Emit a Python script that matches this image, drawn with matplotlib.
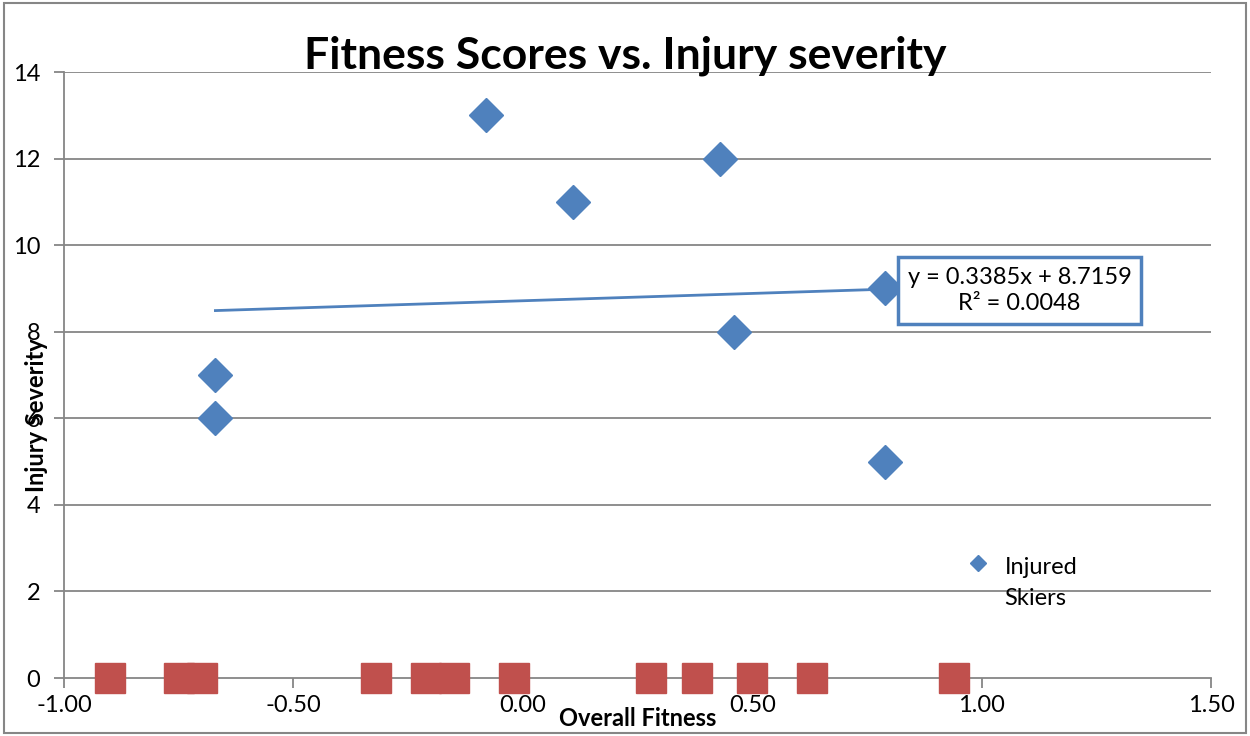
import matplotlib
matplotlib.use('Agg')
import matplotlib.pyplot as plt
from matplotlib.patches import Rectangle
import numpy as np

plt.rcParams['font.family'] = ['Lato', 'DejaVu Sans']

# injured skiers (overall fitness, injury severity)
injured_x = [-0.67, -0.67, -0.08, 0.11, 0.43, 0.46, 0.79, 0.79]
injured_y = [7, 6, 13, 11, 12, 8, 9, 5]

# uninjured skiers sit on severity 0
uninjured_x = [-0.90, -0.75, -0.70, -0.32, -0.21, -0.15, -0.02,
               0.28, 0.38, 0.50, 0.63, 0.94]
uninjured_y = [0] * len(uninjured_x)

# Excel linear trendline shown on the chart
slope = 0.3385
intercept = 8.7159
r2 = 0.0048

x_ticks = [-1.0, -0.5, 0.0, 0.5, 1.0, 1.5]
y_ticks = [0, 2, 4, 6, 8, 10, 12, 14]

blue = '#4F81BD'
red = '#C0504D'
grey = '#868686'

fig = plt.figure(figsize=(12.5, 7.36), dpi=100)
ax = fig.add_axes([0.0512, 0.0788, 0.9176, 0.8233])

# grey frame round the whole chart
fig.patches.append(Rectangle((0.003, 0.004), 0.994, 0.992, transform=fig.transFigure,
                             fill=False, edgecolor=grey, lw=1.5))

ax.set_xlim(-1.0, 1.5)
ax.set_ylim(0, 14)
ax.set_xticks(x_ticks)
ax.set_xticklabels(['%.2f' % t for t in x_ticks])
ax.set_yticks(y_ticks)

for y in y_ticks[1:]:
    ax.axhline(y, color=grey, lw=1.3, zorder=1)

for s in ['top', 'right']:
    ax.spines[s].set_visible(False)
ax.spines['left'].set_color(grey)
ax.spines['bottom'].set_color(grey)
ax.spines['left'].set_linewidth(1.3)
ax.spines['bottom'].set_linewidth(1.3)
ax.spines['bottom'].set_zorder(1)
ax.tick_params(axis='both', colors=grey, labelcolor='black', labelsize=17,
               length=7, width=1.3, direction='out')
ax.tick_params(axis='x', pad=5)
ax.tick_params(axis='y', pad=10)

xs = np.array([min(injured_x), max(injured_x)])
ax.plot(xs, slope * xs + intercept, color=blue, lw=2.0, zorder=2)

pts = ax.plot(injured_x, injured_y, 'D', color=blue, ms=17, mec=blue,
              zorder=3, label='Injured\nSkiers')[0]
ax.plot(uninjured_x, uninjured_y, 's', color=red, ms=21, mec=red, zorder=3,
        clip_on=False)

ax.text(0.833, 0.639, 'y = %.4fx + %.4f\nR² = %.4f' % (slope, intercept, r2),
        transform=ax.transAxes, ha='center', va='center', fontsize=17,
        linespacing=1.3,
        bbox=dict(boxstyle='square,pad=0.42', fc='white', ec=blue, lw=2.5),
        zorder=4)

leg = ax.legend(handles=[pts], loc='upper left', bbox_to_anchor=(0.768, 0.215),
                frameon=False, fontsize=17, markerscale=0.45, handletextpad=0.12,
                borderaxespad=0)
leg.get_texts()[0].set_linespacing(1.55)
# put the legend diamond next to the first line, like Excel does
h = leg.legend_handles[0]
h.set_ydata(np.asarray(h.get_ydata()) + 14.5)

fig.suptitle('Fitness Scores vs. Injury severity', fontsize=32, fontweight='bold',
             x=0.5, y=0.952)
ax.set_xlabel('Overall Fitness', fontsize=17, fontweight='bold')
ax.xaxis.set_label_coords(0.5, -0.048)
ax.set_ylabel('Injury Severity', fontsize=17, fontweight='bold')
ax.yaxis.set_label_coords(-0.014, 0.434)

fig.savefig('out.png', dpi=100)
